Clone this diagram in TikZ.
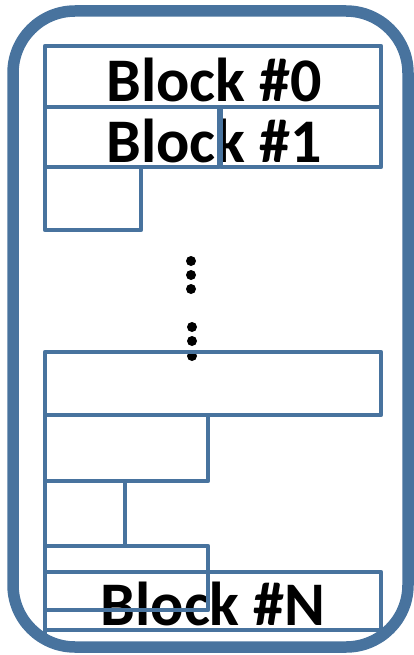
\documentclass[tikz,border=0pt]{standalone}
\usepackage{fontspec}
\setmainfont{Carlito}
\definecolor{frameblue}{RGB}{72,115,158}
\begin{document}
\begin{tikzpicture}[x=1pt,y=-1pt,
  blk/.style={draw=frameblue,line width=4.6pt,line join=round},
  lbl/.style={anchor=base,inner sep=0pt,font=\fontsize{62}{62}\selectfont\bfseries,text=black},
  dot/.style={circle,fill=black,inner sep=0pt,minimum size=10pt}]
\useasboundingbox (0,0) rectangle (414,655);
% outer frame
\draw[draw=frameblue,line width=11.5pt,rounded corners=62pt] (13,11) rectangle (408,647);
% labels
\node[lbl] (t0) at (214,102) {Block \#0};
\node[lbl] (t1) at (214,163) {Block \#1};
\node[lbl] (tN) at (213,625) {Block \#N};
% dots
\node[dot] (d1) at (191,261) {};
\node[dot] (d2) at (191,275) {};
\node[dot] (d3) at (191,289) {};
\node[dot] (d4) at (192,327) {};
\node[dot] (d5) at (192,341) {};
\node[dot] (d6) at (192,356) {};
% blocks
\draw[blk] (45,46) rectangle (381,107);
\draw[blk] (45,107) rectangle (219,167);
\draw[blk] (221,107) rectangle (381,167);
\draw[blk] (45,167) rectangle (141,230);
\draw[blk] (45,352) rectangle (381,415);
\draw[blk] (45,415) rectangle (208,481);
\draw[blk] (45,481) rectangle (125,546);
\draw[blk] (45,572) rectangle (381,630);
\draw[blk] (45,546) rectangle (208,610);
\draw[blk] (45,610) -- (45,634);
\end{tikzpicture}
\end{document}
